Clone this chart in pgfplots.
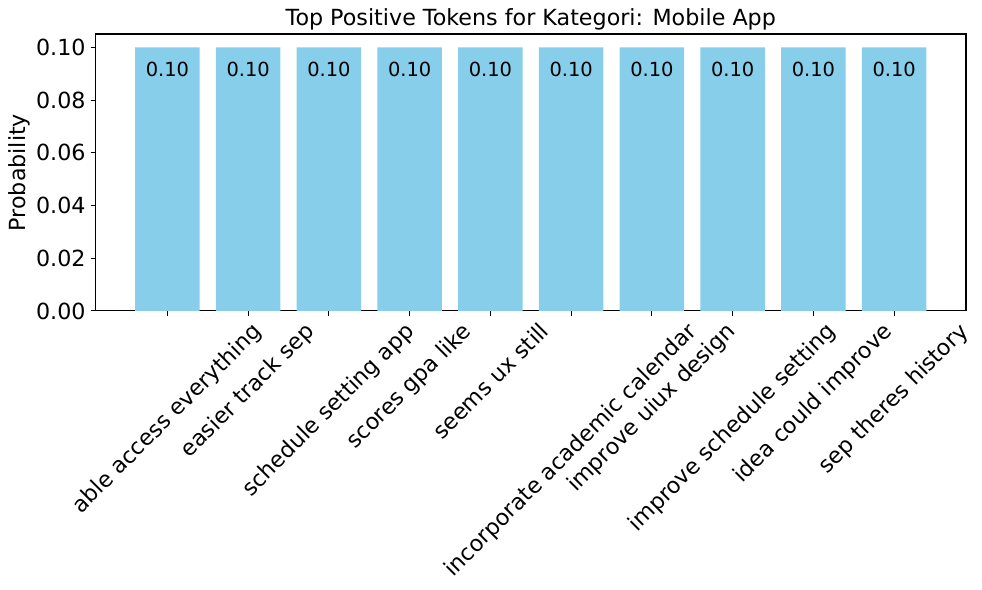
\documentclass[border=0pt]{standalone}
\usepackage{fontspec}
\setmainfont{DejaVu Sans}
\usepackage{graphicx}
\usepackage{pgfplots}
\pgfplotsset{compat=1.18}
\definecolor{skyblue}{HTML}{87CEEB}

\begin{document}
\begin{tikzpicture}
\begin{axis}[
    scale only axis,
    width=626.8pt, height=199.2pt,
    at={(0,0)}, anchor=south west,
    xmin=-0.89, xmax=9.89,
    ymin=0, ymax=0.105,
    axis line style={line width=0.8pt, black},
    tick align=outside,
    xtick pos=bottom, ytick pos=left,
    major tick length=3.5pt,
    every tick/.style={black, line width=0.8pt},
    xtick={0,...,9},
    xticklabels={
        \rotatebox{45}{able access everything},
        \rotatebox{45}{easier track sep},
        \rotatebox{45}{schedule setting app},
        \rotatebox{45}{scores gpa like},
        \rotatebox{45}{seems ux still},
        \rotatebox{45}{incorporate academic calendar},
        \rotatebox{45}{improve uiux design},
        \rotatebox{45}{improve schedule setting},
        \rotatebox{45}{idea could improve},
        \rotatebox{45}{sep theres history}},
    xticklabel style={anchor=north, inner sep=0pt, yshift=-3.5pt, font=\fontsize{16}{19}\selectfont},
    ytick={0,0.02,0.04,0.06,0.08,0.1},
    yticklabel style={anchor=east, inner sep=0pt, xshift=-3.5pt, font=\fontsize{16}{19}\selectfont,
        /pgf/number format/fixed, /pgf/number format/fixed zerofill, /pgf/number format/precision=2},
    /pgf/number format/assume math mode=true,
    scaled y ticks=false,
    ylabel={Probability},
    ylabel style={at={(rel axis cs:0,0.5)}, anchor=center, yshift=54.6pt, font=\fontsize{16}{19}\selectfont},
    nodes near coords={0.10},
    every node near coord/.append style={anchor=base, yshift=-20.7pt, font=\fontsize{14}{17}\selectfont, black},
]
\addplot[ybar, bar width=0.8, fill=skyblue, draw=none] coordinates {
    (0,0.1) (1,0.1) (2,0.1) (3,0.1) (4,0.1)
    (5,0.1) (6,0.1) (7,0.1) (8,0.1) (9,0.1)
};
\end{axis}
% top spine (not drawn by the axis here)
\fill[black] (-0.4pt,198.6pt) rectangle (627.2pt,199.8pt);
\node[anchor=base, font=\fontsize{16}{19}\selectfont] at (313.4pt,205.2pt) {Top Positive Tokens for Kategori: Mobile App};
\pgfresetboundingbox
\path[use as bounding box] (-68.8pt,-200.9pt) rectangle (638.3pt,223.9pt);
\end{tikzpicture}
\end{document}
